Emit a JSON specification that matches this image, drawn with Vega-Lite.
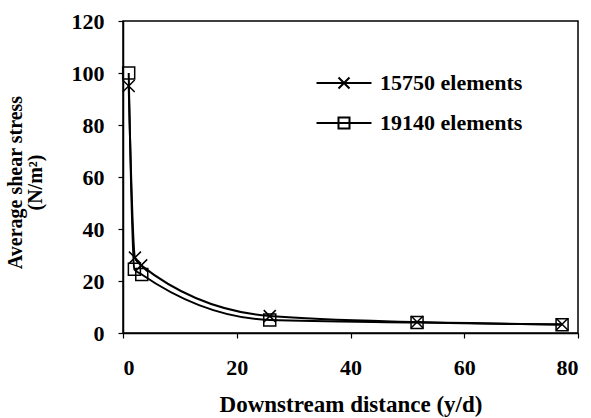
{
  "$schema": "https://vega.github.io/schema/vega-lite/v6.json",
  "width": 455,
  "height": 312,
  "autosize": "none",
  "padding": {"left": 123, "top": 21, "right": 13, "bottom": 85},
  "background": "white",
  "config": {
    "font": "Liberation Serif",
    "view": {"stroke": "black", "strokeWidth": 1.5},
    "axis": {
      "grid": false,
      "domainColor": "black",
      "domainWidth": 1.5,
      "tickColor": "black",
      "tickWidth": 1.2,
      "tickSize": 5,
      "labelFont": "Liberation Serif",
      "labelFontSize": 22,
      "labelFontWeight": "bold",
      "labelColor": "black",
      "titleFont": "Liberation Serif",
      "titleFontSize": 20,
      "titleFontWeight": "bold",
      "titleColor": "black"
    }
  },
  "data": {
    "values": [
      {"series": "15750 elements", "distance": 1, "stress": 95},
      {"series": "15750 elements", "distance": 2.1, "stress": 29},
      {"series": "15750 elements", "distance": 3.2, "stress": 26},
      {"series": "15750 elements", "distance": 25.8, "stress": 6.5},
      {"series": "15750 elements", "distance": 51.7, "stress": 4.2},
      {"series": "15750 elements", "distance": 77.2, "stress": 3.4},
      {"series": "19140 elements", "distance": 1, "stress": 100},
      {"series": "19140 elements", "distance": 2, "stress": 24.5},
      {"series": "19140 elements", "distance": 3.3, "stress": 22.5},
      {"series": "19140 elements", "distance": 25.8, "stress": 5},
      {"series": "19140 elements", "distance": 51.7, "stress": 4},
      {"series": "19140 elements", "distance": 77.2, "stress": 3.2}
    ]
  },
  "encoding": {
    "x": {
      "field": "distance",
      "type": "quantitative",
      "scale": {"domain": [0, 80], "nice": false},
      "axis": {
        "title": "Downstream distance (y/d)",
        "titleFontSize": 23,
        "values": [0, 20, 40, 60, 80],
        "labelPadding": 19,
        "titleY": 78,
        "titleBaseline": "alphabetic"
      }
    },
    "y": {
      "field": "stress",
      "type": "quantitative",
      "scale": {"domain": [0, 120], "nice": false},
      "axis": {
        "title": ["Average shear stress", "\u00a0\u00a0\u00a0\u00a0\u00a0(N/m²)"],
        "values": [0, 20, 40, 60, 80, 100, 120],
        "labelPadding": 14,
        "titleX": -102,
        "titleY": 161,
        "titleAngle": -90,
        "titleAlign": "center",
        "titleBaseline": "alphabetic",
        "titleLineHeight": 20
      }
    }
  },
  "layer": [
    {
      "mark": {"type": "line", "interpolate": "monotone", "color": "black", "strokeWidth": 2},
      "encoding": {"detail": {"field": "series"}}
    },
    {
      "mark": {"type": "point", "filled": false, "color": "black", "strokeWidth": 1.5, "size": 144, "opacity": 1},
      "encoding": {
        "shape": {
          "field": "series",
          "type": "nominal",
          "scale": {"domain": ["15750 elements", "19140 elements"], "range": ["M-1,-1L1,1M-1,1L1,-1", "square"]},
          "legend": null
        }
      }
    },
    {
      "mark": {"type": "point", "filled": false, "color": "black", "strokeWidth": 2, "size": 121, "opacity": 0},
      "encoding": {
        "shape": {
          "field": "series",
          "type": "nominal",
          "scale": {"domain": ["15750 elements", "19140 elements"], "range": ["M-5,0L5,0M-1,-1L1,1M-1,1L1,-1", "M-5,0L5,0M-1,-1L1,-1L1,1L-1,1Z"]},
          "legend": {
            "orient": "none",
            "legendX": 210,
            "legendY": 51,
            "padding": 0,
            "title": null,
            "labelFont": "Liberation Serif",
            "labelFontSize": 22,
            "labelFontWeight": "bold",
            "labelColor": "black",
            "labelOffset": 25,
            "rowPadding": 18,
            "symbolOpacity": 1,
            "symbolStrokeColor": "black",
            "symbolStrokeWidth": 2,
            "symbolSize": 121
          }
        }
      }
    }
  ],
  "resolve": {"scale": {"shape": "independent"}}
}
